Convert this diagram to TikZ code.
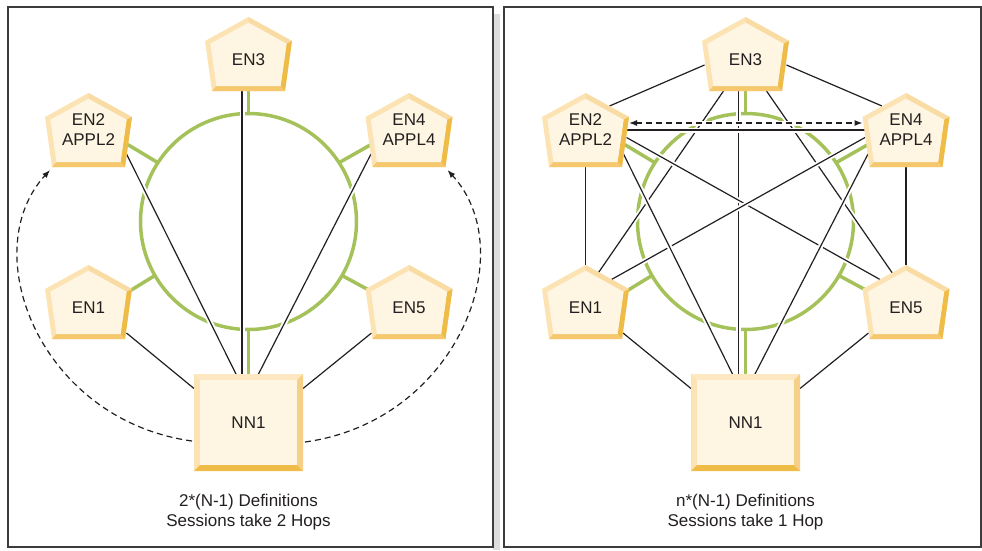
\documentclass[tikz,border=0pt]{standalone}
\usepackage{fontspec}
\setmainfont{Liberation Sans}
\usetikzlibrary{arrows.meta,positioning,backgrounds}
\definecolor{nodeFill}{HTML}{FEF6E2}
\definecolor{bevelLight}{HTML}{FCE3B3}
\definecolor{bevelTop}{HTML}{F9DBA4}
\definecolor{bevelMid}{HTML}{F5C86E}
\definecolor{bevelDark}{HTML}{F0BC48}
\definecolor{hubTop}{HTML}{FDE8C2}
\definecolor{hubRight}{HTML}{F7CF86}
\definecolor{ringGreen}{HTML}{A5C25A}
\definecolor{linkBlack}{HTML}{231F20}
\definecolor{frameGray}{HTML}{3C3C3C}
\definecolor{shadowGray}{HTML}{DCDDDE}

\begin{document}
\begin{tikzpicture}[
  x=1pt, y=-1pt,
  font=\fontsize{17pt}{20pt}\selectfont,
  >={Latex[length=8pt,width=6pt]},
  penta/.style={minimum width=87pt, minimum height=74pt, inner sep=0pt, outer sep=0pt,
    align=center, text=linkBlack,
    path picture={
      \path (path picture bounding box.north) coordinate (o1)
        ([yshift=-24pt]path picture bounding box.north east) coordinate (o2)
        ([xshift=-7pt]path picture bounding box.south east) coordinate (o3)
        ([xshift=7pt]path picture bounding box.south west) coordinate (o4)
        ([yshift=-24pt]path picture bounding box.north west) coordinate (o5)
        ([yshift=-5.7pt]path picture bounding box.north) coordinate (i1)
        ([xshift=-5.4pt,yshift=-26.7pt]path picture bounding box.north east) coordinate (i2)
        ([xshift=-11.4pt,yshift=5pt]path picture bounding box.south east) coordinate (i3)
        ([xshift=11.4pt,yshift=5pt]path picture bounding box.south west) coordinate (i4)
        ([xshift=5.4pt,yshift=-26.7pt]path picture bounding box.north west) coordinate (i5);
      \fill[bevelLight] (o1) -- (o2) -- (o3) -- (o4) -- (o5) -- cycle;
      \fill[bevelTop] (o1) -- (o2) -- (i2) -- (i1) -- cycle;
      \fill[bevelDark] (o2) -- (o3) -- (i3) -- (i2) -- cycle;
      \fill[bevelMid] (o3) -- (o4) -- (i4) -- (i3) -- cycle;
      \fill[nodeFill] (i1) -- (i2) -- (i3) -- (i4) -- (i5) -- cycle;
    }},
  oneline/.style={text height=22pt, text depth=0pt},
  hub/.style={minimum width=109pt, minimum height=97pt, inner sep=0pt, outer sep=0pt,
    text=linkBlack,
    path picture={
      \path (path picture bounding box.north west) coordinate (q1)
        (path picture bounding box.north east) coordinate (q2)
        (path picture bounding box.south east) coordinate (q3)
        (path picture bounding box.south west) coordinate (q4)
        ([xshift=6pt,yshift=-6pt]path picture bounding box.north west) coordinate (r1)
        ([xshift=-6pt,yshift=-6pt]path picture bounding box.north east) coordinate (r2)
        ([xshift=-6pt,yshift=6pt]path picture bounding box.south east) coordinate (r3)
        ([xshift=6pt,yshift=6pt]path picture bounding box.south west) coordinate (r4);
      \fill[bevelLight] (q1) -- (q2) -- (q3) -- (q4) -- cycle;
      \fill[hubTop] (q1) -- (q2) -- (r2) -- (r1) -- cycle;
      \fill[hubRight] (q2) -- (q3) -- (r3) -- (r2) -- cycle;
      \fill[bevelDark] (q3) -- (q4) -- (r4) -- (r3) -- cycle;
      \fill[nodeFill] (r1) -- (r2) -- (r3) -- (r4) -- cycle;
    }},
  caption/.style={align=center, inner sep=0pt, text=linkBlack},
  ring/.style={circle, minimum size=216pt, inner sep=0pt, outer sep=0pt,
    draw=ringGreen, line width=3.5pt},
  stub/.style={draw=ringGreen, line width=3.5pt},
  link/.style={draw=linkBlack, line width=1.2pt,
    preaction={draw=white, line width=5pt, solid, -}},
  session/.style={draw=linkBlack, line width=1.2pt, dash pattern=on 6pt off 4pt}
]
  \useasboundingbox (0,0) rectangle (982,550);

  \fill[shadowGray] (493,14) rectangle (500,550);
  \draw[frameGray, line width=1.5pt] (8,7) rectangle (493,547);
  \draw[frameGray, line width=1.5pt] (504,7) rectangle (981,547);

  \node[penta, oneline] (L-EN3) at (248.5,54) {EN3};
  \node[penta] (L-EN2) at (88.5,130) {EN2\\APPL2};
  \node[penta] (L-EN4) at (409,130) {EN4\\APPL4};
  \node[penta, oneline] (L-EN1) at (88.5,302) {EN1};
  \node[penta, oneline] (L-EN5) at (409,302) {EN5};
  \node[hub] (L-NN1) at (248.5,422.5) {NN1};
  \node[caption, below=23pt of L-NN1] (L-cap) {2*(N-1) Definitions\\Sessions take 2 Hops};

  \node[penta, oneline] (R-EN3) at (745.5,54) {EN3};
  \node[penta] (R-EN2) at (585.5,130) {EN2\\APPL2};
  \node[penta] (R-EN4) at (906,130) {EN4\\APPL4};
  \node[penta, oneline] (R-EN1) at (585.5,302) {EN1};
  \node[penta, oneline] (R-EN5) at (906,302) {EN5};
  \node[hub] (R-NN1) at (745.5,422.5) {NN1};
  \node[caption, below=23pt of R-NN1] (R-cap) {n*(N-1) Definitions\\Sessions take 1 Hop};

  \begin{pgfonlayer}{background}
    \node[ring] (L-ring) at (248.5,221.5) {};
    \draw[stub] (L-EN3.south) -- (L-ring.north);
    \draw[stub] (L-ring.south) -- (L-NN1.north);
    \draw[stub] (L-ring.147) -- ([xshift=30pt,yshift=-9pt]L-EN2.center);
    \draw[stub] (L-ring.33) -- ([xshift=-30pt,yshift=-10pt]L-EN4.center);
    \draw[stub] (L-ring.210) -- ([xshift=33pt,yshift=6pt]L-EN1.center);
    \draw[stub] (L-ring.-30) -- ([xshift=-32pt,yshift=7.5pt]L-EN5.center);

    \draw[link] ([xshift=-6.5pt]L-EN3.south) -- ([xshift=-6.5pt]L-NN1.north);
    \draw[link] ([xshift=38pt,yshift=-24pt]L-EN2.center) -- ([xshift=-12.5pt]L-NN1.north);
    \draw[link] ([xshift=-38pt,yshift=-24pt]L-EN4.center) -- ([xshift=10pt]L-NN1.north);
    \draw[link] ([xshift=38pt,yshift=-31pt]L-EN1.center) -- ([yshift=34pt]L-NN1.west);
    \draw[link] ([xshift=-37.5pt,yshift=-31pt]L-EN5.center) -- ([yshift=34pt]L-NN1.east);

    \node[ring] (R-ring) at (745.5,221.5) {};
    \draw[stub] (R-EN3.south) -- (R-ring.north);
    \draw[stub] (R-ring.south) -- (R-NN1.north);
    \draw[stub] (R-ring.147) -- ([xshift=30pt,yshift=-9pt]R-EN2.center);
    \draw[stub] (R-ring.33) -- ([xshift=-30pt,yshift=-10pt]R-EN4.center);
    \draw[stub] (R-ring.210) -- ([xshift=33pt,yshift=6pt]R-EN1.center);
    \draw[stub] (R-ring.-30) -- ([xshift=-32pt,yshift=7.5pt]R-EN5.center);

    \draw[link] ([xshift=-7pt]R-EN3.south) -- ([xshift=-7pt]R-NN1.north);
    \draw[link] ([xshift=-41pt,yshift=-11pt]R-EN3.center) -- ([xshift=24pt,yshift=24pt]R-EN2.center);
    \draw[link] ([xshift=41pt,yshift=-11pt]R-EN3.center) -- ([xshift=-24pt,yshift=24pt]R-EN4.center);
    \draw[link] ([xshift=-22pt]R-EN3.south) -- ([xshift=12pt,yshift=28pt]R-EN1.center);
    \draw[link] ([xshift=21pt]R-EN3.south) -- ([xshift=-13pt,yshift=28pt]R-EN5.center);
    \draw[link] (R-EN2.south) -- (R-EN1.north);
    \draw[link] (R-EN4.south) -- (R-EN5.north);
    \draw[link] ([xshift=41pt,yshift=-7.5pt]R-EN2.center) -- ([xshift=-26pt,yshift=22.5pt]R-EN5.center);
    \draw[link] ([xshift=-41pt,yshift=-7.5pt]R-EN4.center) -- ([xshift=26pt,yshift=22.5pt]R-EN1.center);
    \draw[link] ([xshift=38pt,yshift=-24pt]R-EN2.center) -- ([xshift=-13pt]R-NN1.north);
    \draw[link] ([xshift=-38pt,yshift=-24pt]R-EN4.center) -- ([xshift=9.5pt]R-NN1.north);
    \draw[link] ([xshift=37.5pt,yshift=-31pt]R-EN1.center) -- ([yshift=34pt]R-NN1.west);
    \draw[link] ([xshift=-37.5pt,yshift=-31pt]R-EN5.center) -- ([yshift=34pt]R-NN1.east);
    \draw[link] (R-EN2.center) -- (R-EN4.center);
    \draw[link, session, <->] ([yshift=7pt]R-EN2.east) -- ([yshift=7pt]R-EN4.west);
  \end{pgfonlayer}

  \draw[session, ->] ([xshift=-2pt,yshift=-18.5pt]L-NN1.west)
    .. controls +(-152,-21) and +(-75,82) .. ([xshift=5pt,yshift=-3pt]L-EN2.south west);
  \draw[session, ->] ([xshift=2pt,yshift=-19.5pt]L-NN1.east)
    .. controls +(152,-21) and +(75,82) .. ([xshift=-5pt,yshift=-3pt]L-EN4.south east);
\end{tikzpicture}
\end{document}
